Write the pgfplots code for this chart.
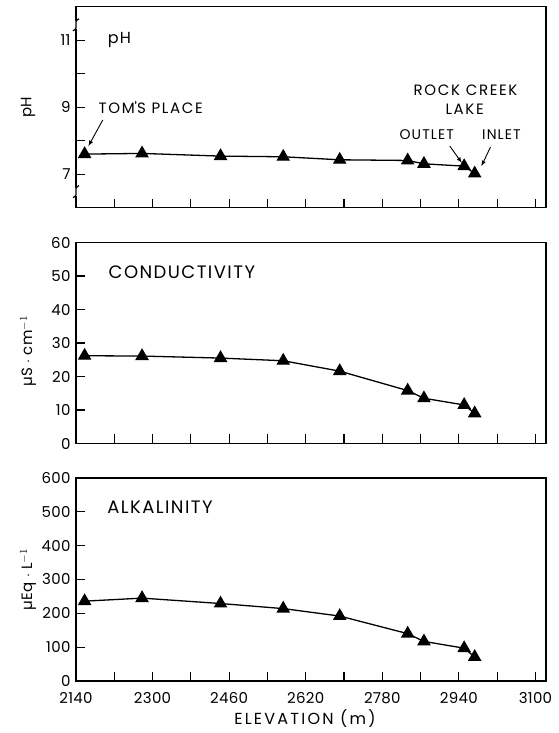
\documentclass[border=0pt]{standalone}
\usepackage{pgfplots}
\pgfplotsset{compat=1.18}
\usepackage{fontspec}
\setmainfont{Poppins}[LetterSpace=2]
\newfontfamily\wide{Poppins}[LetterSpace=8]
\newfontfamily\wider{Poppins}[LetterSpace=11]
\newfontfamily\widest{Poppins}[LetterSpace=14]
\begin{document}
\begin{tikzpicture}[font=\fontsize{14}{16}\selectfont]
\path[use as bounding box] (0,0) rectangle (559pt,-733pt);
\pgfplotsset{panel/.style={
  scale only axis, width=470pt, height=201pt,
  xmin=2140, xmax=3122,
  xtick={2140,2300,...,3100}, minor xtick={2220,2380,...,3060},
  tick align=inside, xtick pos=left, ytick pos=left,
  major tick length=9pt, minor tick length=9pt,
  axis line style={line width=1.3pt},
  every tick/.style={line width=1.2pt, black},
  every minor tick/.style={line width=1.2pt, black},
  tick label style={font=\fontsize{15}{17}\selectfont},
  xticklabel style={yshift=-8pt},
  yticklabel style={xshift=-2pt},
  /pgf/number format/assume math mode=true,
  /pgf/number format/1000 sep={},
  clip=false,
  ylabel style={at={(axis description cs:-0.102,0.5)}, anchor=center, font=\fontsize{15}{17}\selectfont},
  xlabel style={yshift=-1pt, xshift=-6pt, inner sep=1pt, font=\widest\fontsize{16}{17}\selectfont},
}}
\tikzset{datline/.style={black, line width=1.3pt, mark=triangle*, mark size=6.6pt, mark options={solid}},
  ttl/.style={anchor=west, font=\wide\fontsize{18}{20}\selectfont},
  ann/.style={font=\wide\fontsize{14}{16}\selectfont},
  annw/.style={font=\wider\fontsize{15}{17}\selectfont},
  brk/.style={line width=1.2pt}}
% pH
\begin{axis}[panel, at={(76pt,-6.7pt)}, anchor=north west,
  ymin=6, ymax=12, ytick={7,9,11}, minor ytick={8,10}, xticklabels={},
  ylabel={pH}]
\addplot[datline] coordinates {(2158,7.60) (2278,7.62) (2442,7.54) (2573,7.52) (2691,7.43) (2833,7.41) (2867,7.31) (2951,7.24) (2973,7.02)};
\node[anchor=west, font=\wide\fontsize{16}{18}\selectfont] at (axis cs:2199,11.0) {pH};
\node[annw] at (axis cs:2296,8.98) {TOM\textquotesingle S PLACE};
\draw[-latex, line width=0.9pt] (axis cs:2196,8.62) -- (axis cs:2166,7.84);
\node[annw] at (axis cs:2954,9.51) {ROCK CREEK};
\node[annw] at (axis cs:2952,8.95) {LAKE};
\node[ann] at (axis cs:2873,8.17) {OUTLET};
\node[ann] at (axis cs:3029,8.17) {INLET};
\draw[-latex, line width=0.9pt] (axis cs:2921,7.84) -- (axis cs:2946,7.34);
\draw[-latex, line width=0.9pt] (axis cs:3006,7.81) -- (axis cs:2987,7.24);
\draw[white, line width=3pt] ([yshift=-4pt]rel axis cs:0,0.91) -- ([yshift=4pt]rel axis cs:0,0.91);
\draw[brk] ([xshift=-3pt,yshift=-6pt]rel axis cs:0,0.91) .. controls ([xshift=4pt,yshift=-3pt]rel axis cs:0,0.91) and ([xshift=-4pt,yshift=3pt]rel axis cs:0,0.91) .. ([xshift=3pt,yshift=6pt]rel axis cs:0,0.91);
\draw[white, line width=3pt] ([yshift=-4pt]rel axis cs:0,0.08) -- ([yshift=4pt]rel axis cs:0,0.08);
\draw[brk] ([xshift=-3pt,yshift=-6pt]rel axis cs:0,0.08) .. controls ([xshift=4pt,yshift=-3pt]rel axis cs:0,0.08) and ([xshift=-4pt,yshift=3pt]rel axis cs:0,0.08) .. ([xshift=3pt,yshift=6pt]rel axis cs:0,0.08);
\end{axis}
% Conductivity
\begin{axis}[panel, at={(76pt,-242.5pt)}, anchor=north west,
  ymin=0, ymax=60, ytick={0,10,...,60}, xticklabels={},
  ylabel={µS $\cdot$ cm$^{-1}$}, ylabel style={at={(axis description cs:-0.102,0.46)}}]
\addplot[datline] coordinates {(2158,26.2) (2278,26.1) (2442,25.5) (2573,24.7) (2691,21.6) (2833,15.8) (2867,13.5) (2951,11.5) (2973,9.0)};
\node[ttl] at (axis cs:2201,51) {CONDUCTIVITY};
\end{axis}
% Alkalinity
\begin{axis}[panel, at={(76pt,-478pt)}, anchor=north west, height=203pt,
  ymin=0, ymax=600, ytick={0,100,...,600},
  xlabel={ELEVATION (m)},
  ylabel={µEq $\cdot$ L$^{-1}$}]
\addplot[datline] coordinates {(2158,236) (2278,245) (2442,229) (2573,214) (2691,192) (2833,140) (2867,117) (2951,97) (2973,71)};
\node[ttl] at (axis cs:2198,514) {ALKALINITY};
\end{axis}
\end{tikzpicture}
\end{document}
